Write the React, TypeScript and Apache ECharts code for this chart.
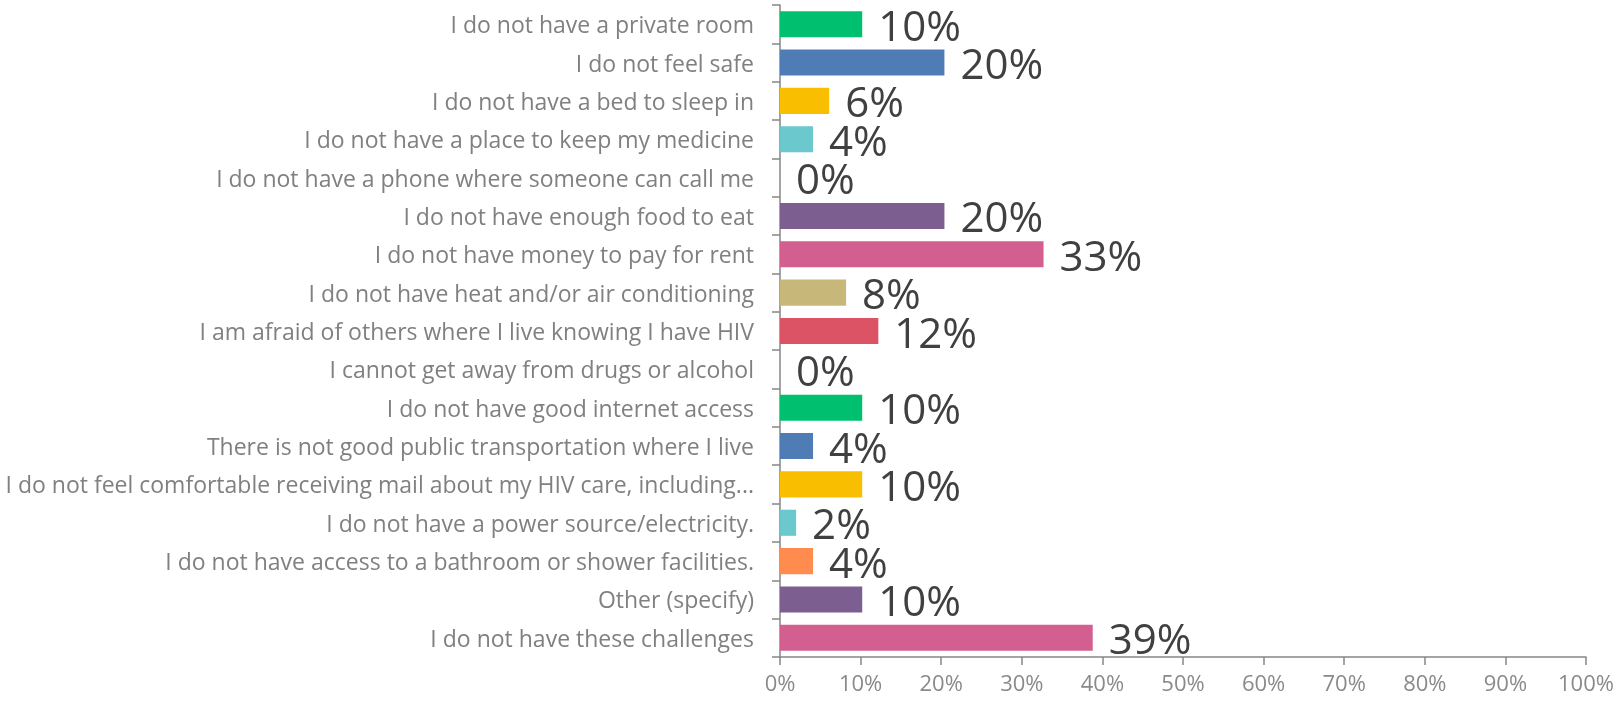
import React, { useEffect, useRef } from "react";
import * as echarts from "echarts";

const categories: string[] = [
  "I do not have a private room",
  "I do not feel safe",
  "I do not have a bed to sleep in",
  "I do not have a place to keep my medicine",
  "I do not have a phone where someone can call me",
  "I do not have enough food to eat",
  "I do not have money to pay for rent",
  "I do not have heat and/or air conditioning",
  "I am afraid of others where I live knowing I have HIV",
  "I cannot get away from drugs or alcohol",
  "I do not have good internet access",
  "There is not good public transportation where I live",
  "I do not feel comfortable receiving mail about my HIV care, including...",
  "I do not have a power source/electricity.",
  "I do not have access to a bathroom or shower facilities.",
  "Other (specify)",
  "I do not have these challenges",
];

const values: number[] = [10.2, 20.4, 6.1, 4.1, 0, 20.4, 32.7, 8.2, 12.2, 0, 10.2, 4.1, 10.2, 2.0, 4.1, 10.2, 38.8];

const colors: string[] = [
  "#00BF6F", "#507CB6", "#F9BE00", "#6BC8CD", "#FF8B4F",
  "#7D5E90", "#D25F90", "#C7B879", "#DC5366", "#9D9D9D",
  "#00BF6F", "#507CB6", "#F9BE00", "#6BC8CD", "#FF8B4F",
  "#7D5E90", "#D25F90",
];

const xTicks = { min: 0, max: 100, interval: 10 };

export default function App() {
  const ref = useRef<HTMLDivElement>(null);
  useEffect(() => {
    if (!ref.current) return;
    const chart = echarts.init(ref.current, null, { renderer: "svg" });
    const font = "'Open Sans', 'Noto Sans', sans-serif";
    chart.setOption({
      animation: false,
      textStyle: { fontFamily: font },
      grid: { left: 780, right: 37, top: 5, bottom: 47, containLabel: false },
      xAxis: {
        type: "value",
        min: xTicks.min,
        max: xTicks.max,
        interval: xTicks.interval,
        axisLine: { show: true, lineStyle: { color: "#868686", width: 1.5 } },
        axisTick: { show: true, length: 8, lineStyle: { color: "#868686", width: 1.5 } },
        splitLine: { show: false },
        axisLabel: {
          formatter: (v: number) => v + "%",
          color: "#8a8a8a",
          fontSize: 22,
          fontFamily: font,
          margin: 14,
        },
      },
      yAxis: {
        type: "category",
        inverse: true,
        data: categories,
        axisLine: { show: true, lineStyle: { color: "#868686", width: 1.5 } },
        axisTick: { show: true, length: 8, alignWithLabel: false, lineStyle: { color: "#868686", width: 1.5 } },
        axisLabel: {
          color: "#808080",
          fontSize: 23,
          fontFamily: font,
          margin: 26,
        },
      },
      series: [
        {
          type: "bar",
          barCategoryGap: "32%",
          data: values.map((v, i) => ({ value: v, itemStyle: { color: colors[i] } })),
          label: {
            show: true,
            position: "right",
            distance: 16,
            offset: [0, 0],
            formatter: (p: any) => Math.round(p.value) + "%",
            color: "#404040",
            fontSize: 42,
            lineHeight: 34,
            fontFamily: font,
          },
        },
      ],
    });
    return () => chart.dispose();
  }, []);
  return (
    <div
      ref={ref}
      style={{ position: "fixed", left: 0, top: 0, width: 1623, height: 704 }}
    />
  );
}
